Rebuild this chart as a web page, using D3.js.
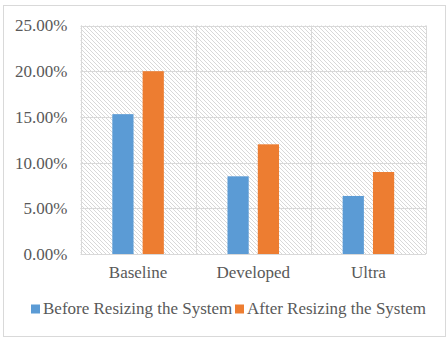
<!DOCTYPE html>
<html><head><meta charset="utf-8">
<script src="https://cdn.jsdelivr.net/npm/d3@7"></script>
<style>body{margin:0;background:#fff}svg{display:block}
text{font-family:"Liberation Serif","Times New Roman",Times,serif;}</style>
</head><body>
<script>
const categories = ["Baseline", "Developed", "Ultra"];
const seriesNames = ["Before Resizing the System", "After Resizing the System"];
const before = [0.153, 0.085, 0.0635];
const after = [0.20, 0.120, 0.0897];
const yTicks = [0, 0.05, 0.10, 0.15, 0.20, 0.25];
const colors = ["#5b9bd5", "#ed7d31"];

const W = 448, H = 340;
const svg = d3.select("body").append("svg").attr("width", W).attr("height", H);
const FS = 17;

svg.append("rect").attr("x", 3.5).attr("y", 5.5).attr("width", 442).attr("height", 331)
  .attr("fill", "#fff").attr("stroke", "#d9d9d9").attr("stroke-width", 1);

const defs = svg.append("defs");
const pat = defs.append("pattern").attr("id", "hatch").attr("patternUnits", "userSpaceOnUse")
  .attr("width", 4).attr("height", 4);
pat.append("rect").attr("width", 4).attr("height", 4).attr("fill", "#fff");
pat.append("path").attr("d", "M-1,-1 L5,5 M-1,3 L1,5 M3,-1 L5,1").attr("stroke", "#d4d4d4").attr("stroke-width", 0.9);

const L = 80.5, R = 426, T = 25.5, B = 254;
const x = d3.scaleBand().domain(categories).range([L, R]);
const y = d3.scaleLinear().domain([0, 0.25]).range([B, T]);

svg.append("rect").attr("x", L).attr("y", T).attr("width", R - L).attr("height", B - T).attr("fill", "url(#hatch)");

// gridlines
svg.append("g").selectAll("line").data(yTicks).join("line")
  .attr("x1", L).attr("x2", R).attr("y1", d => Math.round(y(d)) + 0.5).attr("y2", d => Math.round(y(d)) + 0.5)
  .attr("stroke", "#d9d9d9").attr("stroke-width", 1);
svg.append("g").selectAll("line").data(categories.concat(["__end"])).join("line")
  .attr("x1", (d, i) => Math.round(i < categories.length ? x(d) : R) + 0.5)
  .attr("x2", (d, i) => Math.round(i < categories.length ? x(d) : R) + 0.5)
  .attr("y1", T).attr("y2", B)
  .attr("stroke", "#d9d9d9").attr("stroke-width", 1);

// y axis
const yAxis = d3.axisLeft(y).tickValues(yTicks).tickFormat(d3.format(".2%")).tickSize(0).tickPadding(13);
const yg = svg.append("g").attr("transform", `translate(${L},0)`).call(yAxis);
yg.select(".domain").remove();
yg.attr("font-family", null).attr("font-size", null);
yg.selectAll("text").style("font-size", FS + "px").attr("fill", "#595959");

// x axis
const xAxis = d3.axisBottom(x).tickSize(0).tickPadding(12);
const xg = svg.append("g").attr("transform", `translate(0,${B})`).call(xAxis);
xg.select(".domain").remove();
xg.attr("font-family", null).attr("font-size", null);
xg.selectAll("text").style("font-size", FS + "px").attr("fill", "#595959");

// bars
const inner = d3.scaleBand().domain([0, 1]).range([0, x.bandwidth()]).paddingInner(0.3).paddingOuter(1.05);
const data = categories.map((c, i) => ({c, v: [before[i], after[i]]}));
const g = svg.append("g");
data.forEach(d => {
  d.v.forEach((v, s) => {
    g.append("rect").attr("x", x(d.c) + inner(s)).attr("y", y(v))
      .attr("width", inner.bandwidth()).attr("height", y(0) - y(v)).attr("fill", colors[s]);
  });
});

// legend
const lg = svg.append("g");
const items = [{x: 31, n: seriesNames[0], c: colors[0]}, {x: 235, n: seriesNames[1], c: colors[1]}];
items.forEach(it => {
  lg.append("rect").attr("x", it.x).attr("y", 304.5).attr("width", 9).attr("height", 9).attr("fill", it.c);
  lg.append("text").attr("x", it.x + 12).attr("y", 314).text(it.n)
    .style("font-size", FS + "px").attr("fill", "#595959");
});
</script>
</body></html>
